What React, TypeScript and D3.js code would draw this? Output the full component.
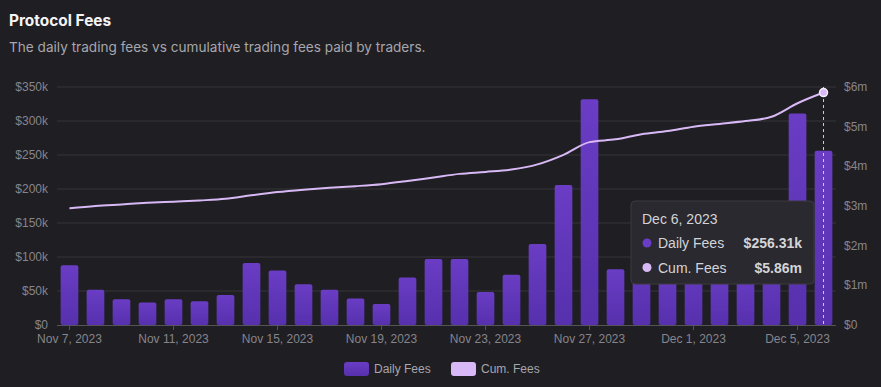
import React, { useRef, useEffect } from 'react';
import * as d3 from 'd3';

const dates = [
  '2023-11-07', '2023-11-08', '2023-11-09', '2023-11-10', '2023-11-11', '2023-11-12',
  '2023-11-13', '2023-11-14', '2023-11-15', '2023-11-16', '2023-11-17', '2023-11-18',
  '2023-11-19', '2023-11-20', '2023-11-21', '2023-11-22', '2023-11-23', '2023-11-24',
  '2023-11-25', '2023-11-26', '2023-11-27', '2023-11-28', '2023-11-29', '2023-11-30',
  '2023-12-01', '2023-12-02', '2023-12-03', '2023-12-04', '2023-12-05', '2023-12-06',
];

// daily fees in USD
const dailyFees = [
  88000, 52000, 38000, 33000, 38000, 35000, 44000, 91000, 80000, 60000, 52000, 39000,
  31000, 70000, 97000, 97000, 48500, 74000, 119000, 206000, 332000, 82000, 125000, 85000,
  105000, 75000, 75000, 105000, 311000, 256310,
];

// cumulative fees in USD
const cumFees = [
  2.94e6, 3.0e6, 3.04e6, 3.08e6, 3.11e6, 3.14e6, 3.18e6, 3.27e6, 3.35e6, 3.41e6, 3.46e6, 3.5e6,
  3.55e6, 3.63e6, 3.72e6, 3.81e6, 3.86e6, 3.92e6, 4.05e6, 4.29e6, 4.61e6, 4.68e6, 4.81e6, 4.89e6,
  5.0e6, 5.07e6, 5.14e6, 5.25e6, 5.59e6, 5.86e6,
];

const leftTicks = [0, 50000, 100000, 150000, 200000, 250000, 300000, 350000];
const rightTicks = [0, 1e6, 2e6, 3e6, 4e6, 5e6, 6e6];
const xTickDates = ['2023-11-07', '2023-11-11', '2023-11-15', '2023-11-19', '2023-11-23', '2023-11-27', '2023-12-01', '2023-12-05'];

const W = 881;
const H = 387;
const FONT = '"Liberation Sans", Arial, sans-serif';

export default function App() {
  const ref = useRef<SVGSVGElement>(null);

  useEffect(() => {
    const svg = d3.select(ref.current);
    svg.selectAll('*').remove();

    const left = 57, right = 836, top = 87, bottom = 325;
    const parse = d3.timeParse('%Y-%m-%d');
    const fmtDate = d3.timeFormat('%b %-d, %Y');

    const x = d3.scaleBand<string>().domain(dates).range([left, right]).paddingInner(0.32).paddingOuter(0.14);
    const yL = d3.scaleLinear().domain([0, 350000]).range([bottom, top]);
    const yR = d3.scaleLinear().domain([0, 6e6]).range([bottom, top]);
    const cx = (d: string) => (x(d) as number) + x.bandwidth() / 2;

    svg.append('rect').attr('width', W).attr('height', H).attr('fill', '#1f1e23');

    const defs = svg.append('defs');
    const grad = defs.append('linearGradient').attr('id', 'barGrad').attr('x1', 0).attr('x2', 0).attr('y1', 0).attr('y2', 1);
    grad.append('stop').attr('offset', '0%').attr('stop-color', '#6a3dc4');
    grad.append('stop').attr('offset', '100%').attr('stop-color', '#5630ad');

    // titles
    svg.append('text').attr('x', 9).attr('y', 26).attr('fill', '#f4f4f5')
      .attr('font-family', 'Inter, "Noto Sans", sans-serif').attr('font-weight', 700).attr('font-size', 15.4)
      .text('Protocol Fees');
    svg.append('text').attr('x', 9).attr('y', 52).attr('fill', '#a7a6ac')
      .attr('font-family', 'Inter, "Noto Sans", sans-serif').attr('font-size', 13.6)
      .text('The daily trading fees vs cumulative trading fees paid by traders.');

    // gridlines
    svg.append('g').selectAll('line').data(leftTicks.slice(1)).join('line')
      .attr('x1', left).attr('x2', right)
      .attr('y1', d => yL(d)).attr('y2', d => yL(d))
      .attr('stroke', '#35343a').attr('stroke-width', 1);

    // left axis labels
    svg.append('g').selectAll('text').data(leftTicks).join('text')
      .attr('x', 48).attr('y', d => yL(d) + 4)
      .attr('text-anchor', 'end').attr('fill', '#86858b')
      .attr('font-family', FONT).attr('font-size', 12)
      .text(d => (d === 0 ? '$0' : `$${d / 1000}k`));

    // right axis labels
    svg.append('g').selectAll('text').data(rightTicks).join('text')
      .attr('x', 844).attr('y', d => yR(d) + 4)
      .attr('fill', '#86858b')
      .attr('font-family', FONT).attr('font-size', 12)
      .text(d => (d === 0 ? '$0' : `$${d / 1e6}m`));

    // bars
    svg.append('g').selectAll('rect').data(dates).join('rect')
      .attr('x', d => x(d) as number)
      .attr('y', (d, i) => yL(dailyFees[i]))
      .attr('width', x.bandwidth())
      .attr('height', (d, i) => bottom - yL(dailyFees[i]))
      .attr('rx', 2)
      .attr('fill', 'url(#barGrad)');

    // x axis
    svg.append('line').attr('x1', left).attr('x2', right).attr('y1', bottom + 0.5).attr('y2', bottom + 0.5)
      .attr('stroke', '#55545a');
    const xt = svg.append('g').selectAll('g').data(xTickDates).join('g')
      .attr('transform', d => `translate(${cx(d)},${bottom})`);
    xt.append('line').attr('y1', 0).attr('y2', 5).attr('stroke', '#55545a');
    xt.append('text').attr('y', 18).attr('text-anchor', 'middle').attr('fill', '#86858b')
      .attr('font-family', FONT).attr('font-size', 12)
      .text(d => fmtDate(parse(d) as Date));

    // cumulative line
    const line = d3.line<string>()
      .x(d => cx(d))
      .y((d, i) => yR(cumFees[i]))
      .curve(d3.curveMonotoneX);
    svg.append('path').datum(dates).attr('d', line)
      .attr('fill', 'none').attr('stroke', '#d8b9f5').attr('stroke-width', 2);

    // hover marker
    const last = dates.length - 1;
    const hx = cx(dates[last]);
    svg.append('line').attr('x1', hx).attr('x2', hx).attr('y1', top).attr('y2', bottom)
      .attr('stroke', '#cfcfd4').attr('stroke-dasharray', '3,3').attr('stroke-width', 1);
    svg.append('circle').attr('cx', hx).attr('cy', yR(cumFees[last])).attr('r', 4)
      .attr('fill', '#d8b9f5').attr('stroke', '#f4ecfd').attr('stroke-width', 1.5);

    // tooltip
    const tt = svg.append('g').attr('transform', 'translate(631,201)');
    tt.append('rect').attr('width', 183).attr('height', 83).attr('rx', 4)
      .attr('fill', '#2a292f').attr('stroke', '#3c3b41');
    tt.append('text').attr('x', 11).attr('y', 23).attr('fill', '#d4d4d8')
      .attr('font-family', FONT).attr('font-size', 14)
      .text(fmtDate(parse(dates[last]) as Date));
    const rows = [
      { name: 'Daily Fees', color: '#6a3dc4', value: `$${d3.format('.2f')(dailyFees[last] / 1000)}k` },
      { name: 'Cum. Fees', color: '#d8b9f5', value: `$${d3.format('.2f')(cumFees[last] / 1e6)}m` },
    ];
    const rg = tt.selectAll('g.row').data(rows).join('g')
      .attr('transform', (d, i) => `translate(0,${42 + i * 24.5})`);
    rg.append('circle').attr('cx', 16).attr('cy', 0).attr('r', 4.5).attr('fill', d => d.color);
    rg.append('text').attr('x', 27).attr('y', 5).attr('fill', '#d4d4d8')
      .attr('font-family', FONT).attr('font-size', 14).text(d => d.name);
    rg.append('text').attr('x', 171).attr('y', 5).attr('text-anchor', 'end').attr('fill', '#d4d4d8')
      .attr('font-family', FONT).attr('font-size', 14).attr('font-weight', 700).text(d => d.value);

    // legend
    const legend = [
      { name: 'Daily Fees', fill: 'url(#barGrad)', x: 344 },
      { name: 'Cum. Fees', fill: '#d8b9f5', x: 451 },
    ];
    const lg = svg.append('g').selectAll('g').data(legend).join('g')
      .attr('transform', d => `translate(${d.x},362)`);
    lg.append('rect').attr('width', 25).attr('height', 14).attr('rx', 3).attr('fill', d => d.fill);
    lg.append('text').attr('x', 30).attr('y', 11).attr('fill', '#a7a6ac')
      .attr('font-family', FONT).attr('font-size', 12).text(d => d.name);
  }, []);

  return (
    <svg
      ref={ref}
      width={W}
      height={H}
      style={{ position: 'absolute', left: 0, top: 0, display: 'block' }}
    />
  );
}
